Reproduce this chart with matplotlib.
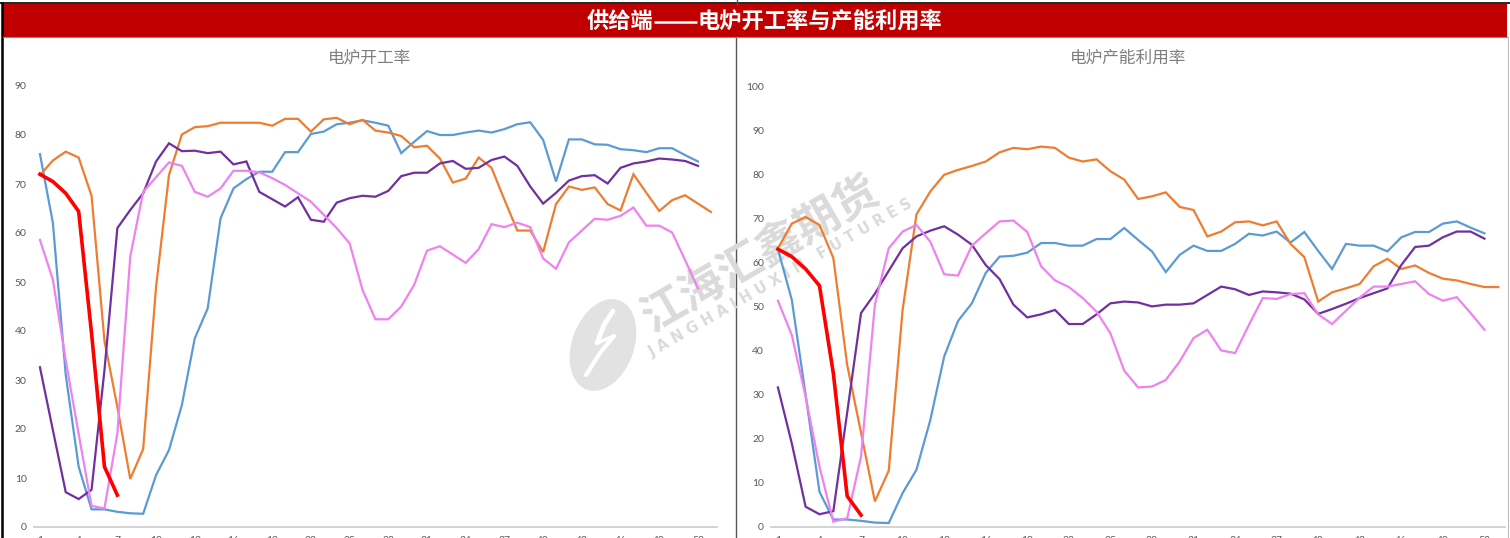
import matplotlib
matplotlib.use("Agg")
import matplotlib.pyplot as plt
from matplotlib.patches import Rectangle, Ellipse
import numpy as np

# ---------------- data ----------------
weeks = list(range(1, 54))
tick_weeks = weeks[::3]

left_title = "电炉开工率"
right_title = "电炉产能利用率"
main_title_a = "供给端"
main_title_b = "电炉开工率与产能利用率"

blue_L = [76.1, 62.1, 31.0, 12.3, 3.6, 3.6, 3.1, 2.8, 2.7, 10.6, 15.7, 24.9, 38.5, 44.6, 63.0, 69.1,
          71.0, 72.5, 72.5, 76.5, 76.5, 80.2, 80.7, 82.2, 82.5, 83.0, 82.5, 81.9, 76.3, 78.6, 80.8, 80.0,
          80.0, 80.5, 80.9, 80.5, 81.2, 82.2, 82.6, 79.0, 70.5, 79.1, 79.1, 78.1, 78.0, 77.1, 76.9, 76.5,
          77.3, 77.3, 75.9, 74.6]
orange_L = [71.8, 74.8, 76.6, 75.4, 67.6, 38.0, 24.5, 9.8, 15.9, 49.0, 71.8, 80.1, 81.6, 81.8, 82.5, 82.5,
            82.5, 82.5, 81.9, 83.3, 83.3, 80.7, 83.2, 83.5, 82.2, 83.1, 80.9, 80.5, 79.8, 77.5, 77.8, 75.2,
            70.3, 71.1, 75.4, 73.3, 66.8, 60.5, 60.5, 56.1, 65.9, 69.5, 68.8, 69.3, 65.9, 64.6, 72.0, 68.2,
            64.5, 66.7, 67.7, 66.0, 64.3]
purple_L = [32.6, 19.8, 7.1, 5.7, 7.6, 32.0, 61.0, 64.7, 68.1, 74.6, 78.3, 76.7, 76.8, 76.3, 76.6, 74.0,
            74.6, 68.4, 66.9, 65.4, 67.3, 62.7, 62.3, 66.2, 67.1, 67.6, 67.4, 68.6, 71.6, 72.3, 72.3, 74.2,
            74.7, 73.1, 73.3, 74.9, 75.6, 73.7, 69.5, 66.0, 68.2, 70.7, 71.6, 71.8, 70.1, 73.3, 74.2, 74.6,
            75.2, 75.0, 74.7, 73.7]
pink_L = [58.6, 50.5, 34.0, 19.0, 4.3, 3.8, 19.1, 55.2, 68.4, 71.4, 74.4, 73.7, 68.4, 67.4, 69.1, 72.7,
          72.7, 72.4, 71.2, 69.8, 68.1, 66.4, 63.7, 61.0, 57.9, 48.4, 42.4, 42.4, 45.0, 49.4, 56.4, 57.3,
          55.6, 53.9, 56.7, 61.8, 61.2, 62.1, 61.2, 54.8, 52.7, 58.1, 60.5, 62.9, 62.7, 63.5, 65.2, 61.5,
          61.5, 60.1, 54.5, 48.7]
red_L = [72.0, 70.5, 68.1, 64.4, 39.5, 12.3, 6.5]

blue_R = [63.1, 51.6, 30.0, 8.0, 1.7, 1.7, 1.4, 1.0, 0.9, 7.7, 13.0, 24.3, 38.7, 46.8, 50.8, 57.7,
          61.4, 61.6, 62.3, 64.5, 64.5, 63.9, 63.9, 65.4, 65.4, 67.9, 65.2, 62.6, 57.9, 61.8, 63.9, 62.7,
          62.7, 64.3, 66.6, 66.2, 67.1, 64.6, 67.0, 62.7, 58.6, 64.3, 63.9, 63.9, 62.6, 65.8, 67.0, 67.0,
          68.9, 69.4, 68.0, 66.7]
orange_R = [63.3, 68.9, 70.4, 68.6, 61.1, 36.8, 21.4, 5.8, 12.8, 49.3, 71.0, 76.2, 80.0, 81.1, 82.0, 83.0,
            85.1, 86.1, 85.8, 86.4, 86.1, 83.9, 83.0, 83.5, 80.8, 78.9, 74.5, 75.1, 76.0, 72.7, 72.0, 66.0,
            67.1, 69.2, 69.4, 68.5, 69.4, 64.3, 61.3, 51.2, 53.3, 54.2, 55.2, 59.2, 60.9, 58.6, 59.4, 57.7,
            56.4, 56.0, 55.2, 54.5, 54.5]
purple_R = [31.7, 19.0, 4.6, 2.9, 3.6, 26.0, 48.6, 53.0, 58.2, 63.3, 66.0, 67.3, 68.3, 66.4, 64.1, 59.5,
            56.3, 50.5, 47.6, 48.3, 49.3, 46.1, 46.1, 48.3, 50.8, 51.2, 51.0, 50.1, 50.5, 50.5, 50.8, 52.7,
            54.6, 54.0, 52.7, 53.5, 53.3, 53.0, 51.7, 48.4, 49.5, 50.7, 52.0, 53.1, 54.2, 59.5, 63.6, 63.9,
            65.8, 67.1, 67.1, 65.5]
pink_R = [51.4, 43.6, 29.6, 13.7, 1.2, 2.0, 16.0, 50.5, 63.3, 67.1, 68.6, 64.8, 57.4, 57.1, 63.9, 66.7,
          69.4, 69.6, 67.0, 59.2, 56.0, 54.5, 52.0, 48.9, 44.0, 35.5, 31.7, 31.9, 33.4, 37.6, 42.9, 44.8,
          40.1, 39.5, 45.9, 52.0, 51.8, 52.9, 53.1, 48.3, 46.1, 49.1, 52.1, 54.6, 54.6, 55.2, 55.8, 52.9,
          51.4, 52.2, 48.6, 44.8]
red_R = [63.1, 61.4, 58.6, 54.8, 34.9, 7.0, 2.7]

C_BLUE = "#5B9BD5"
C_ORANGE = "#ED7D31"
C_PURPLE = "#7030A0"
C_PINK = "#EE82EE"
C_RED = "#FF0000"

CJK = ["Noto Sans CJK SC", "DejaVu Sans"]

W, H = 1510, 538
fig = plt.figure(figsize=(W / 100, H / 100), dpi=100)
fig.patch.set_facecolor("white")

# ---------- background / frame layer (pixel coordinates) ----------
bg = fig.add_axes([0, 0, 1, 1], zorder=0)
bg.set_xlim(0, W)
bg.set_ylim(H, 0)
bg.axis("off")

bg.add_patch(Rectangle((3, 4), 1504, 33, facecolor="#C00000", edgecolor="none"))
bg.plot([0, W], [3.2, 3.2], color="black", lw=1.2)
bg.plot([2, 2], [3, H], color="black", lw=1.8)
bg.plot([735.5, 735.5], [37, H], color="#555555", lw=1.0)
bg.plot([737, 737], [0, 4], color="#555555", lw=1.0)
bg.plot([3, 1507], [37, 37], color="#8a8a8a", lw=0.8)
bg.plot([1507.5, 1507.5], [37, H], color="#bdbdbd", lw=0.8)

# main title: "供给端——电炉开工率与产能利用率" with a continuous double dash
bg.text(653, 21, main_title_a, color="white", fontsize=16, fontweight="bold",
        ha="right", va="center", family=CJK)
bg.plot([654, 697], [21.5, 21.5], color="white", lw=1.8, solid_capstyle="butt")
bg.text(698, 21, main_title_b, color="white", fontsize=16, fontweight="bold",
        ha="left", va="center", family=CJK)

bg.text(369, 58, left_title, color="#7F7F7F", fontsize=12, ha="center", va="center", family=CJK)
bg.text(1128, 58, right_title, color="#7F7F7F", fontsize=12, ha="center", va="center", family=CJK)

# watermark
wm = "#DADADA"
bg.add_patch(Ellipse((603, 345), 62, 95, angle=20, facecolor="#E2E2E2", edgecolor="none"))
bg.plot([613, 604, 597], [311, 325, 343], color="white", lw=3.5, solid_capstyle="round")
bg.plot([597, 614], [343, 336], color="white", lw=2.5, solid_capstyle="round")
bg.plot([614, 600, 586], [336, 353, 375], color="white", lw=3.0, solid_capstyle="round")
bg.text(760, 254, "江海汇鑫期货", color=wm, fontsize=32, fontweight="bold", rotation=30,
        ha="center", va="center", rotation_mode="anchor", family=CJK)
bg.text(781, 278, "J A N G H A I H U X I N   F U T U R E S", color=wm, fontsize=10.5,
        fontweight="bold", rotation=30, ha="center", va="center", rotation_mode="anchor",
        family="DejaVu Sans")


def make_axes(x0, x1, y_top, y_bot, ymax, series, red):
    ax = fig.add_axes([x0 / W, (H - y_bot) / H, (x1 - x0) / W, (y_bot - y_top) / H], zorder=2)
    ax.patch.set_alpha(0)
    idx = np.arange(len(weeks))
    for vals, c in series:
        ax.plot(idx[:len(vals)], vals, color=c, lw=1.6, solid_joinstyle="miter")
    ax.plot(idx[:len(red)], red, color=C_RED, lw=2.6)
    ax.set_xlim(-0.5, len(weeks) - 0.5)
    ax.set_ylim(0, ymax)
    ax.set_yticks(np.arange(0, ymax + 1, 10))
    ax.set_xticks(idx[::3])
    ax.set_xticklabels([str(w) for w in tick_weeks])
    for s in ["top", "right", "left"]:
        ax.spines[s].set_visible(False)
    ax.spines["bottom"].set_color("#D0D0D0")
    ax.spines["bottom"].set_linewidth(1.3)
    ax.tick_params(axis="both", length=0, labelsize=7.5, labelcolor="#595959")
    ax.tick_params(axis="y", pad=5)
    ax.tick_params(axis="x", pad=6.5)
    for lab in ax.get_xticklabels() + ax.get_yticklabels():
        lab.set_family(["Lato", "DejaVu Sans"])
    return ax


make_axes(33.5, 717.3, 86, 527, 90,
          [(blue_L, C_BLUE), (orange_L, C_ORANGE), (purple_L, C_PURPLE), (pink_L, C_PINK)], red_L)
make_axes(771, 1505.2, 86.7, 527, 100,
          [(blue_R, C_BLUE), (orange_R, C_ORANGE), (purple_R, C_PURPLE), (pink_R, C_PINK)], red_R)

fig.savefig("out.png", dpi=100, facecolor="white")
